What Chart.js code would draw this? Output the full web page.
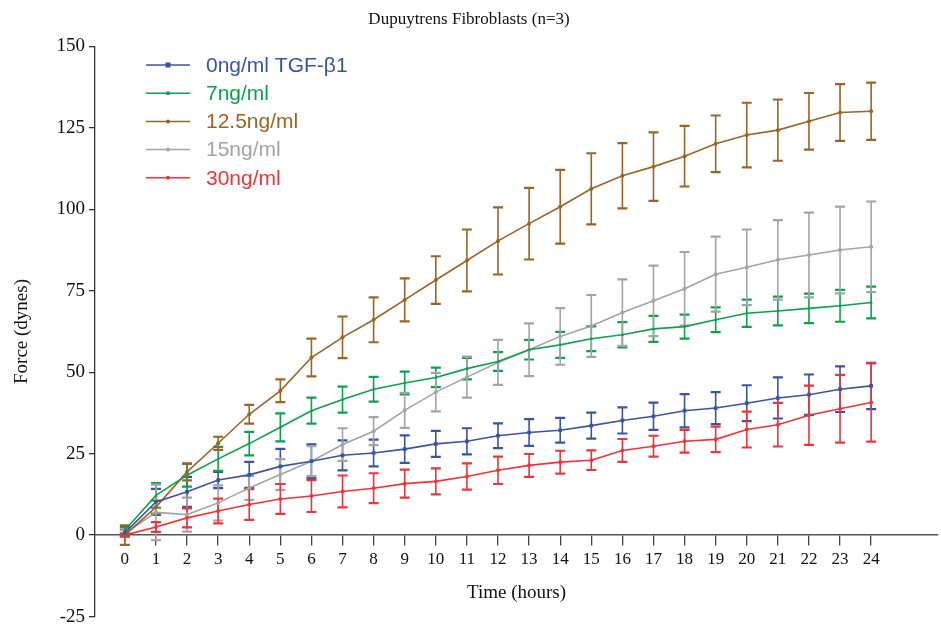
<!DOCTYPE html>
<html>
<head>
<meta charset="utf-8">
<script src="https://cdn.jsdelivr.net/npm/chart.js@4.4.1/dist/chart.umd.min.js"></script>
<style>
  html, body { margin: 0; padding: 0; background: #fff; overflow: hidden; }
  #wrap { width: 941px; height: 624px; overflow: hidden; }
</style>
</head>
<body>
<div id="wrap"><canvas id="myChart" width="941" height="632"></canvas></div>
<script>
const ctx = document.getElementById('myChart');

// hours
const hours = [0,1,2,3,4,5,6,7,8,9,10,11,12,13,14,15,16,17,18,19,20,21,22,23,24]
const yTicks = [-25, 0, 25, 50, 75, 100, 125, 150]
const seriesNames = ['0ng/ml TGF-\u03b21', '7ng/ml', '12.5ng/ml', '15ng/ml', '30ng/ml']

// mean force (dynes)
const tgf0 = [0.7,10.2,13.3,16.9,18.5,21.1,22.7,24.5,25.2,26.4,28,28.8,30.5,31.5,32.2,33.6,35.2,36.5,38.2,39,40.5,42.1,43.1,44.8,45.8]
const tgf7 = [1.5,12.2,18.4,23.4,28.1,33.1,38.2,41.6,44.8,46.7,48.4,51.1,53.3,56.9,58.4,60.3,61.5,63.3,64,66.1,68.1,68.8,69.6,70.4,71.4]
const tgf125 = [0,8.6,19.4,28.2,37.1,44.3,54.5,60.7,66.1,72.2,78.3,84.3,90.3,95.6,100.8,106.3,110.3,113.1,116.3,120.1,122.8,124.3,127,129.7,130.1]
const tgf15 = [0.5,7,6.3,9.9,14.5,18.6,22.7,27.8,31.9,38.3,43.9,48.5,53,56.9,61,64.2,68.3,71.9,75.6,80.1,82.2,84.5,86,87.5,88.5]
const tgf30 = [0,2.5,5.3,7.4,9.4,11.1,12,13.4,14.4,15.8,16.5,18,19.9,21.4,22.4,23,26,27.3,28.8,29.4,32.4,33.9,36.8,38.8,40.7]

// error (+/-)
const err0 = [1,4,4.6,2.5,4,5.4,5.2,4.6,4.1,4.2,4,4,3.8,4.1,3.8,4,4,4.2,5.1,4.9,5.5,6.3,6.2,7,7.1]
const err7 = [1,3.8,3.5,3.7,3.6,4.3,4,4,3.8,3.5,3,3.3,2.9,3,4,3.8,3.9,4,3.7,3.8,4.2,4.4,4.5,4.9,4.9]
const err125 = [3,2,2.6,2,2.9,3.5,5.8,6.4,6.9,6.6,7.3,9.5,10.3,11,11.3,10.9,10,10.5,9.3,8.7,9.9,9.4,8.7,8.7,8.8]
const err15 = [1,8.5,5.2,5.4,3.7,4.7,4.6,5,4.3,5.4,5.9,6.3,6.9,8.1,8.7,9.5,10.2,10.8,11.3,11.5,11.6,12.2,13,13.3,13.9]
const err30 = [0.5,1.5,2.9,3.8,4.7,4.6,4.9,4.9,4.6,4.3,4,4,4.2,3.5,3.5,3,3.5,3.2,3.5,3.9,5.5,6.7,9.1,10.4,12]

const colors = ['#3a54a5', '#0ba24b', '#9d6326', '#a3a4a9', '#ee3439']
const means = [tgf0, tgf7, tgf125, tgf15, tgf30]
const errors = [err0, err7, err125, err15, err30]
const markers = ['rect', 'triangle', 'circle', 'circle', 'circle']

const serif = 'Liberation Serif'
const sans = 'Liberation Sans'

const errorBars = {
  id: 'errorBars',
  beforeDatasetsDraw(chart) {
    const c = chart.ctx
    const xs = chart.scales.x
    const ys = chart.scales.y
    c.save()
    errors.forEach((errs, d) => {
      c.strokeStyle = colors[d]
      means[d].forEach((v, i) => {
        const px = xs.getPixelForValue(hours[i])
        const top = ys.getPixelForValue(v + errs[i])
        const bot = ys.getPixelForValue(v - errs[i])
        c.lineWidth = 1.6
        c.beginPath()
        c.moveTo(px, top)
        c.lineTo(px, bot)
        c.stroke()
        c.lineWidth = 2.2
        c.beginPath()
        c.moveTo(px - 5, top)
        c.lineTo(px + 5, top)
        c.moveTo(px - 5, bot)
        c.lineTo(px + 5, bot)
        c.stroke()
      })
    })
    c.restore()
  }
}

const legendBox = {
  id: 'legendBox',
  afterDraw(chart) {
    const c = chart.ctx
    c.save()
    seriesNames.forEach((name, i) => {
      const y = 65 + i * 28.2
      c.strokeStyle = colors[i]
      c.fillStyle = colors[i]
      c.lineWidth = 1.5
      c.beginPath()
      c.moveTo(146, y)
      c.lineTo(190, y)
      c.stroke()
      if (i === 0) c.fillRect(165.5, y - 2.5, 5, 5)
      else { c.beginPath(); c.arc(168, y, 2, 0, Math.PI * 2); c.fill() }
      c.font = '21px ' + sans
      c.textBaseline = 'middle'
      c.fillText(name, 206, y + 1)
    })
    c.restore()
  }
}

function showFinalChart() {
  new Chart(ctx, {
    type: 'line',
    data: {
      datasets: means.map((vals, d) => ({
        label: seriesNames[d],
        data: vals.map((v, i) => ({ x: hours[i], y: v })),
        borderColor: colors[d],
        backgroundColor: colors[d],
        borderWidth: 1.6,
        pointStyle: markers[d],
        pointRadius: d === 0 ? 2.6 : 2,
        pointBorderWidth: 0,
        tension: 0
      }))
    },
    plugins: [errorBars, legendBox],
    options: {
      responsive: false,
      animation: false,
      layout: { autoPadding: false, padding: { left: 0, right: 3, top: 0, bottom: 0 } },
      plugins: {
        legend: false,
        tooltip: { enabled: false },
        title: {
          display: true,
          text: 'Dupuytrens Fibroblasts (n=3)',
          color: '#111',
          font: { family: serif, size: 17, weight: 'normal' },
          padding: { top: 9, bottom: 17 }
        }
      },
      scales: {
        x: {
          type: 'linear',
          position: { y: 0 },
          min: -0.96,
          max: 26.15,
          afterBuildTicks: (s) => { s.ticks = hours.map(h => ({ value: h })) },
          ticks: {
            color: '#111',
            font: { family: serif, size: 17 },
            padding: 4,
            maxRotation: 0,
            autoSkip: false,
            callback: (v) => String(v)
          },
          grid: { display: true, drawOnChartArea: false, drawTicks: true, tickLength: 10, color: '#444', lineWidth: 1.3 },
          border: { display: true, color: '#555', width: 1.5 },
          title: {
            display: true,
            text: 'Time (hours)',
            color: '#111',
            font: { family: serif, size: 19 },
            padding: { top: 8 }
          }
        },
        y: {
          min: -25,
          max: 150,
          afterBuildTicks: (s) => { s.ticks = yTicks.map(v => ({ value: v })) },
          afterFit: (s) => { s.width = 95 },
          ticks: {
            color: '#111',
            font: { family: serif, size: 19 },
            padding: 4,
            callback: (v) => String(v)
          },
          grid: { display: true, drawOnChartArea: false, drawTicks: true, tickLength: 6, color: '#333', lineWidth: 1.3 },
          border: { display: true, color: '#333', width: 1.3 },
          title: {
            display: true,
            text: 'Force (dynes)',
            color: '#111',
            font: { family: serif, size: 19 },
            padding: { top: 11, bottom: 6 }
          }
        }
      }
    }
  });
}

window.addEventListener('load', () => {
  showFinalChart()
})
</script>
</body>
</html>
